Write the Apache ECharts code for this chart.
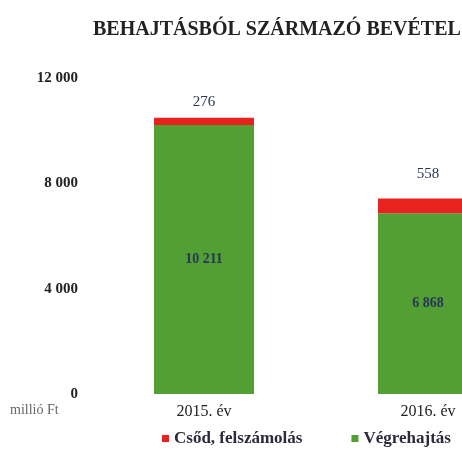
<!DOCTYPE html>
<html>
<head>
<meta charset="utf-8">
<script src="https://cdn.jsdelivr.net/npm/echarts@6/dist/echarts.min.js"></script>
<style>
  html, body { margin: 0; padding: 0; background: #fff; }
  #chart { width: 462px; height: 452px; }
</style>
</head>
<body>
<div id="chart"></div>
<script>
const years = ['2015. év', '2016. év'];
const vegrehajtas = [10211, 6868];
const csod = [276, 558];
const yTicks = [0, 4000, 8000, 12000];

const serif = '"Liberation Serif", "DejaVu Serif", serif';
const navy = '#2a3558';
// label gap above each column (the 2016 one sits higher in the original)
const topGaps = [8, 17];

function fmt(v) {
    return String(v).replace(/\B(?=(\d{3})+(?!\d))/g, ' ');
}

let myChart = echarts.init(document.getElementById('chart'));

let option = {
    animation: false,
    title: {
        text: 'BEHAJTÁSBÓL SZÁRMAZÓ BEVÉTEL',
        left: 88,
        top: 15,
        textStyle: { fontFamily: serif, fontWeight: 'bold', fontSize: 20, color: '#222' }
    },
    legend: {
        left: 157,
        top: 425,
        icon: 'rect',
        itemWidth: 7,
        itemHeight: 7,
        itemGap: 49,
        textStyle: { fontFamily: serif, fontWeight: 'bold', fontSize: 17, color: '#2a2a3a' },
        data: ['Csőd, felszámolás', 'Végrehajtás']
    },
    // the second column runs off the right edge, as in the original crop
    grid: { left: 92, width: 448, top: 78, bottom: 58, outerBoundsMode: 'none' },
    xAxis: {
        type: 'category',
        data: years,
        axisLine: { show: false },
        axisTick: { show: false },
        axisLabel: { fontFamily: serif, fontSize: 16, color: '#222', margin: 10 }
    },
    yAxis: {
        type: 'value',
        min: 0,
        max: 12000,
        interval: 4000,
        splitLine: { show: false },
        axisLine: { show: false },
        axisTick: { show: false },
        axisLabel: {
            fontFamily: serif, fontWeight: 'bold', fontSize: 15, color: '#222', margin: 14,
            formatter: v => yTicks.includes(v) ? fmt(v) : ''
        }
    },
    graphic: [{
        type: 'text',
        left: 10,
        top: 403,
        style: { text: 'millió Ft', fontFamily: serif, fontSize: 14, fill: '#666' }
    }],
    series: [
        {
            name: 'Végrehajtás',
            type: 'bar',
            stack: 'total',
            barWidth: 100,
            itemStyle: { color: '#52a033' },
            label: {
                show: true,
                position: 'inside',
                fontFamily: serif, fontWeight: 'bold', fontSize: 14, color: navy,
                formatter: p => fmt(p.value)
            },
            data: vegrehajtas
        },
        {
            name: 'Csőd, felszámolás',
            type: 'bar',
            stack: 'total',
            barWidth: 100,
            itemStyle: { color: '#e8231f' },
            label: {
                show: true,
                position: 'top',
                fontFamily: serif, fontSize: 15, color: navy,
                formatter: p => fmt(p.value)
            },
            data: csod.map((v, i) => ({ value: v, label: { distance: topGaps[i] } }))
        }
    ]
};

myChart.setOption(option);
</script>
</body>
</html>
